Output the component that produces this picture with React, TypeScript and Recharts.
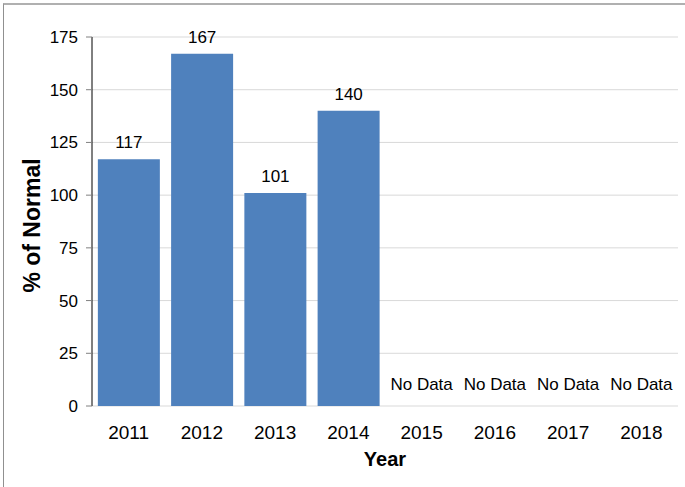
import React from 'react';
import { ComposedChart, Bar, Scatter, XAxis, YAxis, CartesianGrid, LabelList, Label } from 'recharts';

const years = ['2011', '2012', '2013', '2014', '2015', '2016', '2017', '2018'];
const percentOfNormal: (number | null)[] = [117, 167, 101, 140, null, null, null, null];
const yTicks = [0, 25, 50, 75, 100, 125, 150, 175];

const data = years.map((year, i) => ({
  year,
  value: percentOfNormal[i],
  noData: percentOfNormal[i] == null ? 0 : null,
}));

const FONT = 'Liberation Sans, Arial, sans-serif';

const NoDataMark = (props: any) => {
  const { cx, cy, payload } = props;
  if (!payload || payload.noData == null || cx == null || cy == null) return <g />;
  return (
    <text x={cx} y={cy - 16} textAnchor="middle" fontSize={17} fontFamily={FONT} fill="#000">
      No Data
    </text>
  );
};

const App: React.FC = () => {
  return (
    <div style={{ position: 'absolute', left: 0, top: 0, width: 685, height: 487, background: '#fff', overflow: 'hidden' }}>
      <div
        style={{
          position: 'absolute',
          left: 3,
          top: 3,
          width: 700,
          height: 500,
          borderTop: '2px solid #b0b0b0',
          borderLeft: '1px solid #909090',
        }}
      />
      <ComposedChart
        width={685}
        height={487}
        data={data}
        margin={{ top: 37, right: 7, left: 0, bottom: 21 }}
        barCategoryGap="8%"
        style={{ position: 'absolute', left: 0, top: 0 }}
      >
        <CartesianGrid vertical={false} stroke="#d9d9d9" />
        <XAxis
          xAxisId="edges"
          type="number"
          domain={[0, 8]}
          ticks={[0, 1, 2, 3, 4, 5, 6, 7, 8]}
          allowDataOverflow
          height={0}
          tick={false}
          tickSize={6}
          tickLine={{ stroke: '#808080' }}
          axisLine={{ stroke: '#000' }}
        />
        <XAxis
          xAxisId="cat"
          dataKey="year"
          height={60}
          axisLine={false}
          tickLine={false}
          tickSize={0}
          tickMargin={20}
          tick={{ fontSize: 19, fontFamily: FONT, fill: '#000' }}
        >
          <Label
            value="Year"
            position="insideBottom"
            offset={0}
            style={{ fontSize: 20, fontWeight: 'bold', fontFamily: FONT, fill: '#000' }}
          />
        </XAxis>
        <XAxis xAxisId="top" orientation="top" height={0} tick={false} tickLine={false} axisLine={{ stroke: '#808080' }} />
        <YAxis
          domain={[0, 175]}
          ticks={yTicks}
          width={92}
          tickSize={6}
          tickMargin={8}
          interval={0}
          tick={{ fontSize: 17, fontFamily: FONT, fill: '#000' }}
          tickLine={{ stroke: '#808080' }}
          axisLine={{ stroke: '#000' }}
        >
          <Label
            content={(p: any) => {
              const vb = p.viewBox || {};
              const cy = vb.y + vb.height / 2 + 4;
              return (
                <text
                  x={40}
                  y={cy}
                  transform={`rotate(-90, 40, ${cy})`}
                  textAnchor="middle"
                  fontSize={23}
                  fontWeight="bold"
                  fontFamily={FONT}
                  fill="#000"
                >
                  % of Normal
                </text>
              );
            }}
          />
        </YAxis>
        <YAxis yAxisId="right" orientation="right" width={0} tick={false} tickLine={false} axisLine={{ stroke: '#808080' }} />
        <Bar dataKey="value" xAxisId="cat" fill="#4f81bd" isAnimationActive={false}>
          <LabelList dataKey="value" position="top" offset={11} style={{ fontSize: 17, fontFamily: FONT, fill: '#000' }} />
        </Bar>
        <Scatter dataKey="noData" xAxisId="cat" shape={NoDataMark} isAnimationActive={false} />
      </ComposedChart>
    </div>
  );
};

export default App;
